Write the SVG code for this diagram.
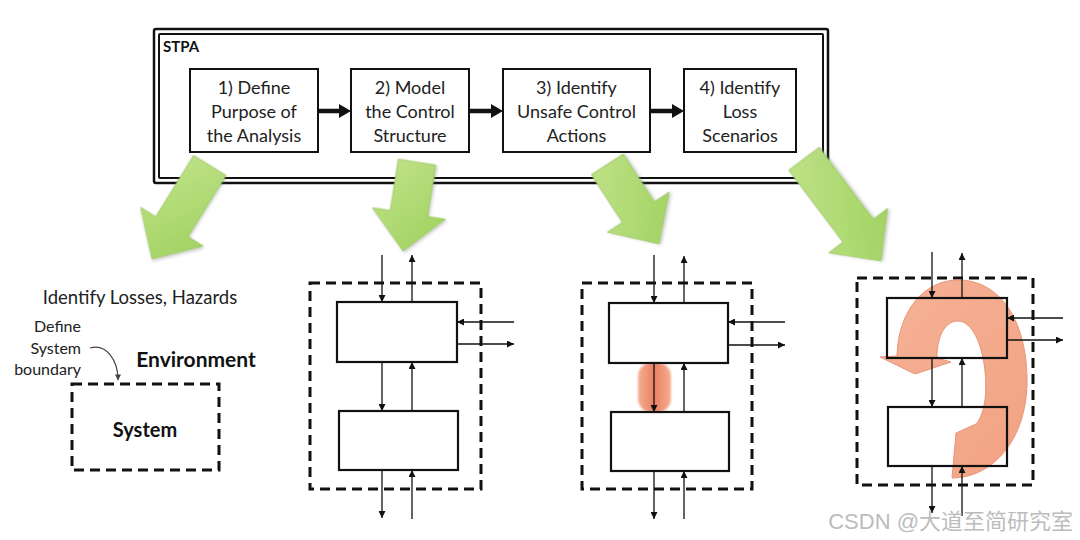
<svg xmlns="http://www.w3.org/2000/svg" width="1080" height="540" viewBox="0 0 1080 540">
  <defs>
    <style>
      .step { fill: #ffffff; stroke: #111; stroke-width: 2; }
      .steptxt { font-family: Lato, "Liberation Sans", sans-serif; font-size: 18px; fill: #222; text-anchor: middle; }
      .box { fill: none; stroke: #111; stroke-width: 2.2; }
      .dash { fill: none; stroke: #111; stroke-width: 3; stroke-dasharray: 10 6; }
      .flow { stroke: #111; stroke-width: 1.3; fill: none; marker-end: url(#ah); }
      .thick { stroke: #111; stroke-width: 4.5; fill: none; }
      .label { font-family: Lato, "Liberation Sans", sans-serif; fill: #222; }
      .bold { font-family: Lato, "Liberation Sans", sans-serif; font-weight: bold; fill: #111; }
      .green { fill: url(#gg); stroke: #9cc866; stroke-width: 0.8; filter: url(#soft); }
    </style>
    <marker id="ah" viewBox="0 0 10 10" refX="10" refY="5" markerWidth="8" markerHeight="7" markerUnits="userSpaceOnUse" orient="auto">
      <path d="M0,0 L10,5 L0,10 z" fill="#111"/>
    </marker>
    <marker id="ahg" viewBox="0 0 10 10" refX="9" refY="5" markerWidth="7" markerHeight="6" markerUnits="userSpaceOnUse" orient="auto">
      <path d="M0,0 L10,5 L0,10 z" fill="#444"/>
    </marker>
    <linearGradient id="gg" x1="0" y1="0" x2="1" y2="1">
      <stop offset="0" stop-color="#c2e38c"/>
      <stop offset="0.6" stop-color="#acd86f"/>
      <stop offset="1" stop-color="#9ccf5c"/>
    </linearGradient>
    <linearGradient id="pill" x1="0" y1="0" x2="1" y2="0">
      <stop offset="0" stop-color="#f5ae93"/>
      <stop offset="0.5" stop-color="#ec8062"/>
      <stop offset="1" stop-color="#f5ae93"/>
    </linearGradient>
    <linearGradient id="loop" x1="0" y1="0" x2="1" y2="1">
      <stop offset="0" stop-color="#f6ad8f"/>
      <stop offset="1" stop-color="#f29a78"/>
    </linearGradient>
    <filter id="soft" x="-20%" y="-20%" width="140%" height="140%">
      <feDropShadow dx="1.5" dy="1.5" stdDeviation="1.5" flood-color="#6a6a6a" flood-opacity="0.35"/>
    </filter>
    <filter id="blur1" x="-30%" y="-30%" width="160%" height="160%">
      <feGaussianBlur stdDeviation="1.2"/>
    </filter>
  </defs>

  <rect width="1080" height="540" fill="#ffffff"/>

  <!-- STPA frame with its four steps -->
  <g id="stpa">
    <rect x="154" y="29" width="674" height="154" rx="2" fill="none" stroke="#111" stroke-width="2.5"/>
    <rect x="159" y="34" width="664" height="144" rx="1" fill="none" stroke="#111" stroke-width="2"/>
    <text class="bold" x="163" y="52" font-size="15">STPA</text>
  </g>
  <g id="step1">
    <rect class="step" x="190" y="69" width="128" height="83"/>
    <text class="steptxt" x="254" y="94">1) Define</text>
    <text class="steptxt" x="254" y="118">Purpose of</text>
    <text class="steptxt" x="254" y="142">the Analysis</text>
  </g>
  <g id="step2">
    <rect class="step" x="351" y="69" width="118" height="83"/>
    <text class="steptxt" x="410" y="94">2) Model</text>
    <text class="steptxt" x="410" y="118">the Control</text>
    <text class="steptxt" x="410" y="142">Structure</text>
  </g>
  <g id="step3">
    <rect class="step" x="503" y="69" width="147" height="83"/>
    <text class="steptxt" x="576.5" y="94">3) Identify</text>
    <text class="steptxt" x="576.5" y="118">Unsafe Control</text>
    <text class="steptxt" x="576.5" y="142">Actions</text>
  </g>
  <g id="step4">
    <rect class="step" x="684" y="69" width="112" height="83"/>
    <text class="steptxt" x="740" y="94">4) Identify</text>
    <text class="steptxt" x="740" y="118">Loss</text>
    <text class="steptxt" x="740" y="142">Scenarios</text>
  </g>

  <!-- left panel: losses, hazards and the system boundary -->
  <g id="boundary">
    <text class="label" x="140" y="304" font-size="18.5" text-anchor="middle">Identify Losses, Hazards</text>
    <text class="label" x="81" y="332" font-size="16" text-anchor="end">Define</text>
    <text class="label" x="81" y="354" font-size="16" text-anchor="end">System</text>
    <text class="label" x="81" y="375" font-size="16" text-anchor="end">boundary</text>
    <text class="bold" x="196" y="367" font-size="21" text-anchor="middle">Environment</text>
    <rect class="dash" x="72" y="384" width="147" height="86"/>
    <text class="bold" x="145" y="437" font-size="20" text-anchor="middle">System</text>
  </g>

  <!-- panel 2: control structure -->
  <g id="ctrl">
    <rect class="dash" x="310" y="283" width="171" height="206"/>
    <rect class="box" x="337" y="302" width="120" height="60"/>
    <rect class="box" x="339" y="411" width="119" height="59"/>
  </g>

  <!-- panel 3: unsafe control action highlighted -->
  <g id="uca">
    <rect class="dash" x="582" y="283" width="170" height="206"/>
    <rect x="638" y="363" width="33" height="49" rx="13" fill="url(#pill)" filter="url(#blur1)"/>
    <rect class="box" x="609" y="303" width="119" height="60"/>
    <rect class="box" x="611" y="412" width="118" height="59"/>
  </g>

  <!-- panel 4: loss scenario loop -->
  <g id="scenario">
    <rect class="dash" x="857" y="278" width="176" height="207"/>
    <path d="M952 478 C992 478 1028 440 1027 378 C1026 320 1000 280 958 280 C925 280 898 310 897 356 L880 357 L915 374 L951 362 L937 358 C937 336 945 321 958 321 C976 321 989 360 985 400 C983 412 980 420 976 424 L956 433 Z" fill="url(#loop)" stroke="#e58c6c" stroke-width="1" opacity="0.92"/>
    <rect class="box" x="887" y="298" width="120" height="60"/>
    <rect class="box" x="888" y="407" width="119" height="59"/>
  </g>

  <g id="connectors">
    <!-- step to step -->
    <line class="thick" x1="318" y1="111" x2="341" y2="111"/>
    <path d="M339 104 L351 111 L339 118 z" fill="#111"/>
    <line class="thick" x1="469" y1="111" x2="493" y2="111"/>
    <path d="M491 104 L503 111 L491 118 z" fill="#111"/>
    <line class="thick" x1="650" y1="111" x2="674" y2="111"/>
    <path d="M672 104 L684 111 L672 118 z" fill="#111"/>

    <!-- boundary pointer -->
    <path d="M90 348 C106 343 118 360 118 380" fill="none" stroke="#444" stroke-width="1.2" marker-end="url(#ahg)"/>

    <!-- panel 2 -->
    <line class="flow" x1="382" y1="255" x2="382" y2="302"/>
    <line class="flow" x1="412" y1="302" x2="412" y2="255"/>
    <line class="flow" x1="514" y1="322" x2="457" y2="322"/>
    <line class="flow" x1="457" y1="344" x2="514" y2="344"/>
    <line class="flow" x1="382" y1="362" x2="382" y2="411"/>
    <line class="flow" x1="412" y1="411" x2="412" y2="362"/>
    <line class="flow" x1="382" y1="470" x2="382" y2="518"/>
    <line class="flow" x1="412" y1="519" x2="412" y2="470"/>

    <!-- panel 3 -->
    <line class="flow" x1="654" y1="255" x2="654" y2="303"/>
    <line class="flow" x1="684" y1="303" x2="684" y2="256"/>
    <line class="flow" x1="785" y1="322" x2="728" y2="322"/>
    <line class="flow" x1="728" y1="345" x2="785" y2="345"/>
    <line class="flow" x1="654" y1="363" x2="654" y2="412"/>
    <line class="flow" x1="684" y1="412" x2="684" y2="363"/>
    <line class="flow" x1="654" y1="471" x2="654" y2="519"/>
    <line class="flow" x1="684" y1="519" x2="684" y2="471"/>

    <!-- panel 4 -->
    <line class="flow" x1="932" y1="252" x2="932" y2="298"/>
    <line class="flow" x1="962" y1="298" x2="962" y2="253"/>
    <line class="flow" x1="1063" y1="318" x2="1007" y2="318"/>
    <line class="flow" x1="1007" y1="340" x2="1063" y2="340"/>
    <line class="flow" x1="932" y1="358" x2="932" y2="407"/>
    <line class="flow" x1="962" y1="407" x2="962" y2="358"/>
    <line class="flow" x1="932" y1="466" x2="932" y2="513"/>
    <line class="flow" x1="962" y1="516" x2="962" y2="466"/>

    <!-- block arrows from each step to its panel -->
    <polygon class="green" transform="translate(152 259) rotate(31.7)" points="-19,-110 19,-110 19,-38 37,-38 0,0 -37,-38 -19,-38"/>
    <polygon class="green" transform="translate(403 251) rotate(9)" points="-19,-90 19,-90 19,-38 37,-38 0,0 -37,-38 -19,-38"/>
    <polygon class="green" transform="translate(659 244) rotate(-33)" points="-19,-95 19,-95 19,-38 37,-38 0,0 -37,-38 -19,-38"/>
    <polygon class="green" transform="translate(881 261) rotate(-37)" points="-19,-128 19,-128 19,-38 37,-38 0,0 -37,-38 -19,-38"/>
  </g>

  <text x="1073" y="529" font-family="'Liberation Sans', 'Noto Sans CJK SC', sans-serif" font-size="22" fill="#bcbcbc" text-anchor="end">CSDN @大道至简研究室</text>
</svg>
